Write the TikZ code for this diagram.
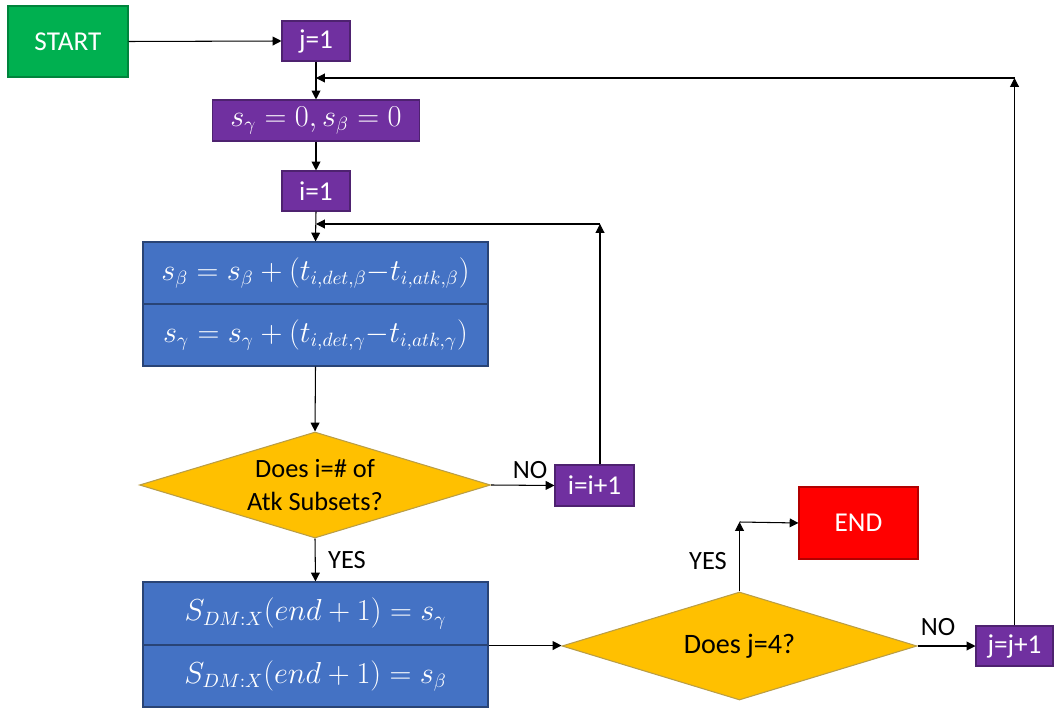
\documentclass[tikz,border=0pt]{standalone}
\usepackage[no-math]{fontspec}
\setmainfont{Carlito}
\usetikzlibrary{shapes.geometric,arrows.meta}
\definecolor{cgreen}{HTML}{00B050}
\definecolor{cpurple}{HTML}{7030A0}
\definecolor{cblue}{HTML}{4472C4}
\definecolor{cgold}{HTML}{FFC000}
\definecolor{cred}{HTML}{FF0000}
\tikzset{
  box/.style={rectangle, inner sep=0pt, text=white, font=\fontsize{15.5}{18}\selectfont, line width=0.6pt},
  mathbox/.style={font=\fontsize{16}{19}\selectfont},
  greenbox/.style={box, fill=cgreen, draw=cgreen!75!black},
  purplebox/.style={box, fill=cpurple, draw=cpurple!70!black},
  bluebox/.style={box, mathbox, fill=cblue, draw=cblue!60!black},
  redbox/.style={box, fill=cred, draw=cred!70!black},
  decision/.style={diamond, inner sep=0pt, fill=cgold, draw=cgold!45!gray, line width=0.6pt},
  dtext/.style={align=center, inner sep=0pt, font=\fontsize{15}{18.5}\selectfont},
  lbl/.style={font=\fontsize{15}{17}\selectfont, text=black},
  conn/.style={line width=0.6pt, -{Triangle[length=5pt,width=5pt]}},
}
\begin{document}
\begin{tikzpicture}[x=0.02cm, y=-0.02cm]
\useasboundingbox (0,0) rectangle (1054,709);
\node[greenbox, minimum width=120*0.02cm, minimum height=71*0.02cm] (start) at (68,41.5) {START};
\node[purplebox, minimum width=68*0.02cm, minimum height=40*0.02cm] (j1) at (316,41) {j=1};
\node[purplebox, mathbox, minimum width=207*0.02cm, minimum height=41*0.02cm] (s0) at (316,120.5) {$s_\gamma = 0, s_\beta = 0$};
\node[purplebox, minimum width=68*0.02cm, minimum height=40*0.02cm] (i1) at (316,191) {i=1};
\node[bluebox, minimum width=345*0.02cm, minimum height=62*0.02cm] (b1) at (315.5,273) {$s_\beta = s_\beta + (t_{i,det,\beta}{-}t_{i,atk,\beta})$};
\node[bluebox, minimum width=345*0.02cm, minimum height=62*0.02cm] (b2) at (315.5,335) {$s_\gamma = s_\gamma + (t_{i,det,\gamma}{-}t_{i,atk,\gamma})$};
\node[decision, minimum width=351*0.02cm, minimum height=106*0.02cm] (d1) at (315,485) {};
\node[dtext] (d1t) at (d1.center) {Does i=\# of\\Atk Subsets?};
\node[purplebox, minimum width=79*0.02cm, minimum height=41*0.02cm] (iinc) at (594.5,485.5) {i=i+1};
\node[bluebox, minimum width=345*0.02cm, minimum height=63*0.02cm] (c1) at (315.5,613.5) {$S_{DM{:}X}(end+1) = s_\gamma$};
\node[bluebox, minimum width=345*0.02cm, minimum height=62*0.02cm] (c2) at (315.5,676) {$S_{DM{:}X}(end+1) = s_\beta$};
\node[decision, minimum width=355*0.02cm, minimum height=108*0.02cm] (d2) at (739.5,646) {};
\node[dtext, font=\fontsize{16}{19}\selectfont] (d2t) at (d2.center) {Does j=4?};
\node[redbox, minimum width=119*0.02cm, minimum height=72*0.02cm] (end) at (858.5,523) {END};
\node[purplebox, minimum width=77*0.02cm, minimum height=40*0.02cm] (jinc) at (1014.5,646) {j=j+1};

\coordinate (jjoin) at (316,78);
\coordinate (jup) at (1014.5,78);
\coordinate (ijoin) at (316,224);
\coordinate (iup) at (600,224);
\coordinate (eup) at (739.5,522);

\draw[conn] (start.east) -- (j1.west);
\draw[conn] (j1.south) -- (s0.north);
\draw[conn] (s0.south) -- (i1.north);
\draw[conn] (i1.south) -- (b1.north);
\draw[conn] (b2.south) -- (d1.north);
\draw[conn] (d1.east) -- (iinc.west);
\draw[conn] (iinc.north -| iup) -- (iup);
\draw[conn] (iup) -- (ijoin);
\draw[conn] (d1.south) -- (c1.north);
\draw[conn] (c1.south east) -- (c1.south east -| d2.west);
\draw[conn] (d2.north) -- (eup);
\draw[conn] (eup) -- (end.west);
\draw[conn] (d2.east) -- (jinc.west);
\draw[conn] (jinc.north) -- (jup);
\draw[conn] (jup) -- (jjoin);

\node[lbl] (no1) at (530,470) {NO};
\node[lbl] (yes1) at (347,560) {YES};
\node[lbl] (yes2) at (708,561) {YES};
\node[lbl] (no2) at (938,627) {NO};
\end{tikzpicture}
\end{document}
